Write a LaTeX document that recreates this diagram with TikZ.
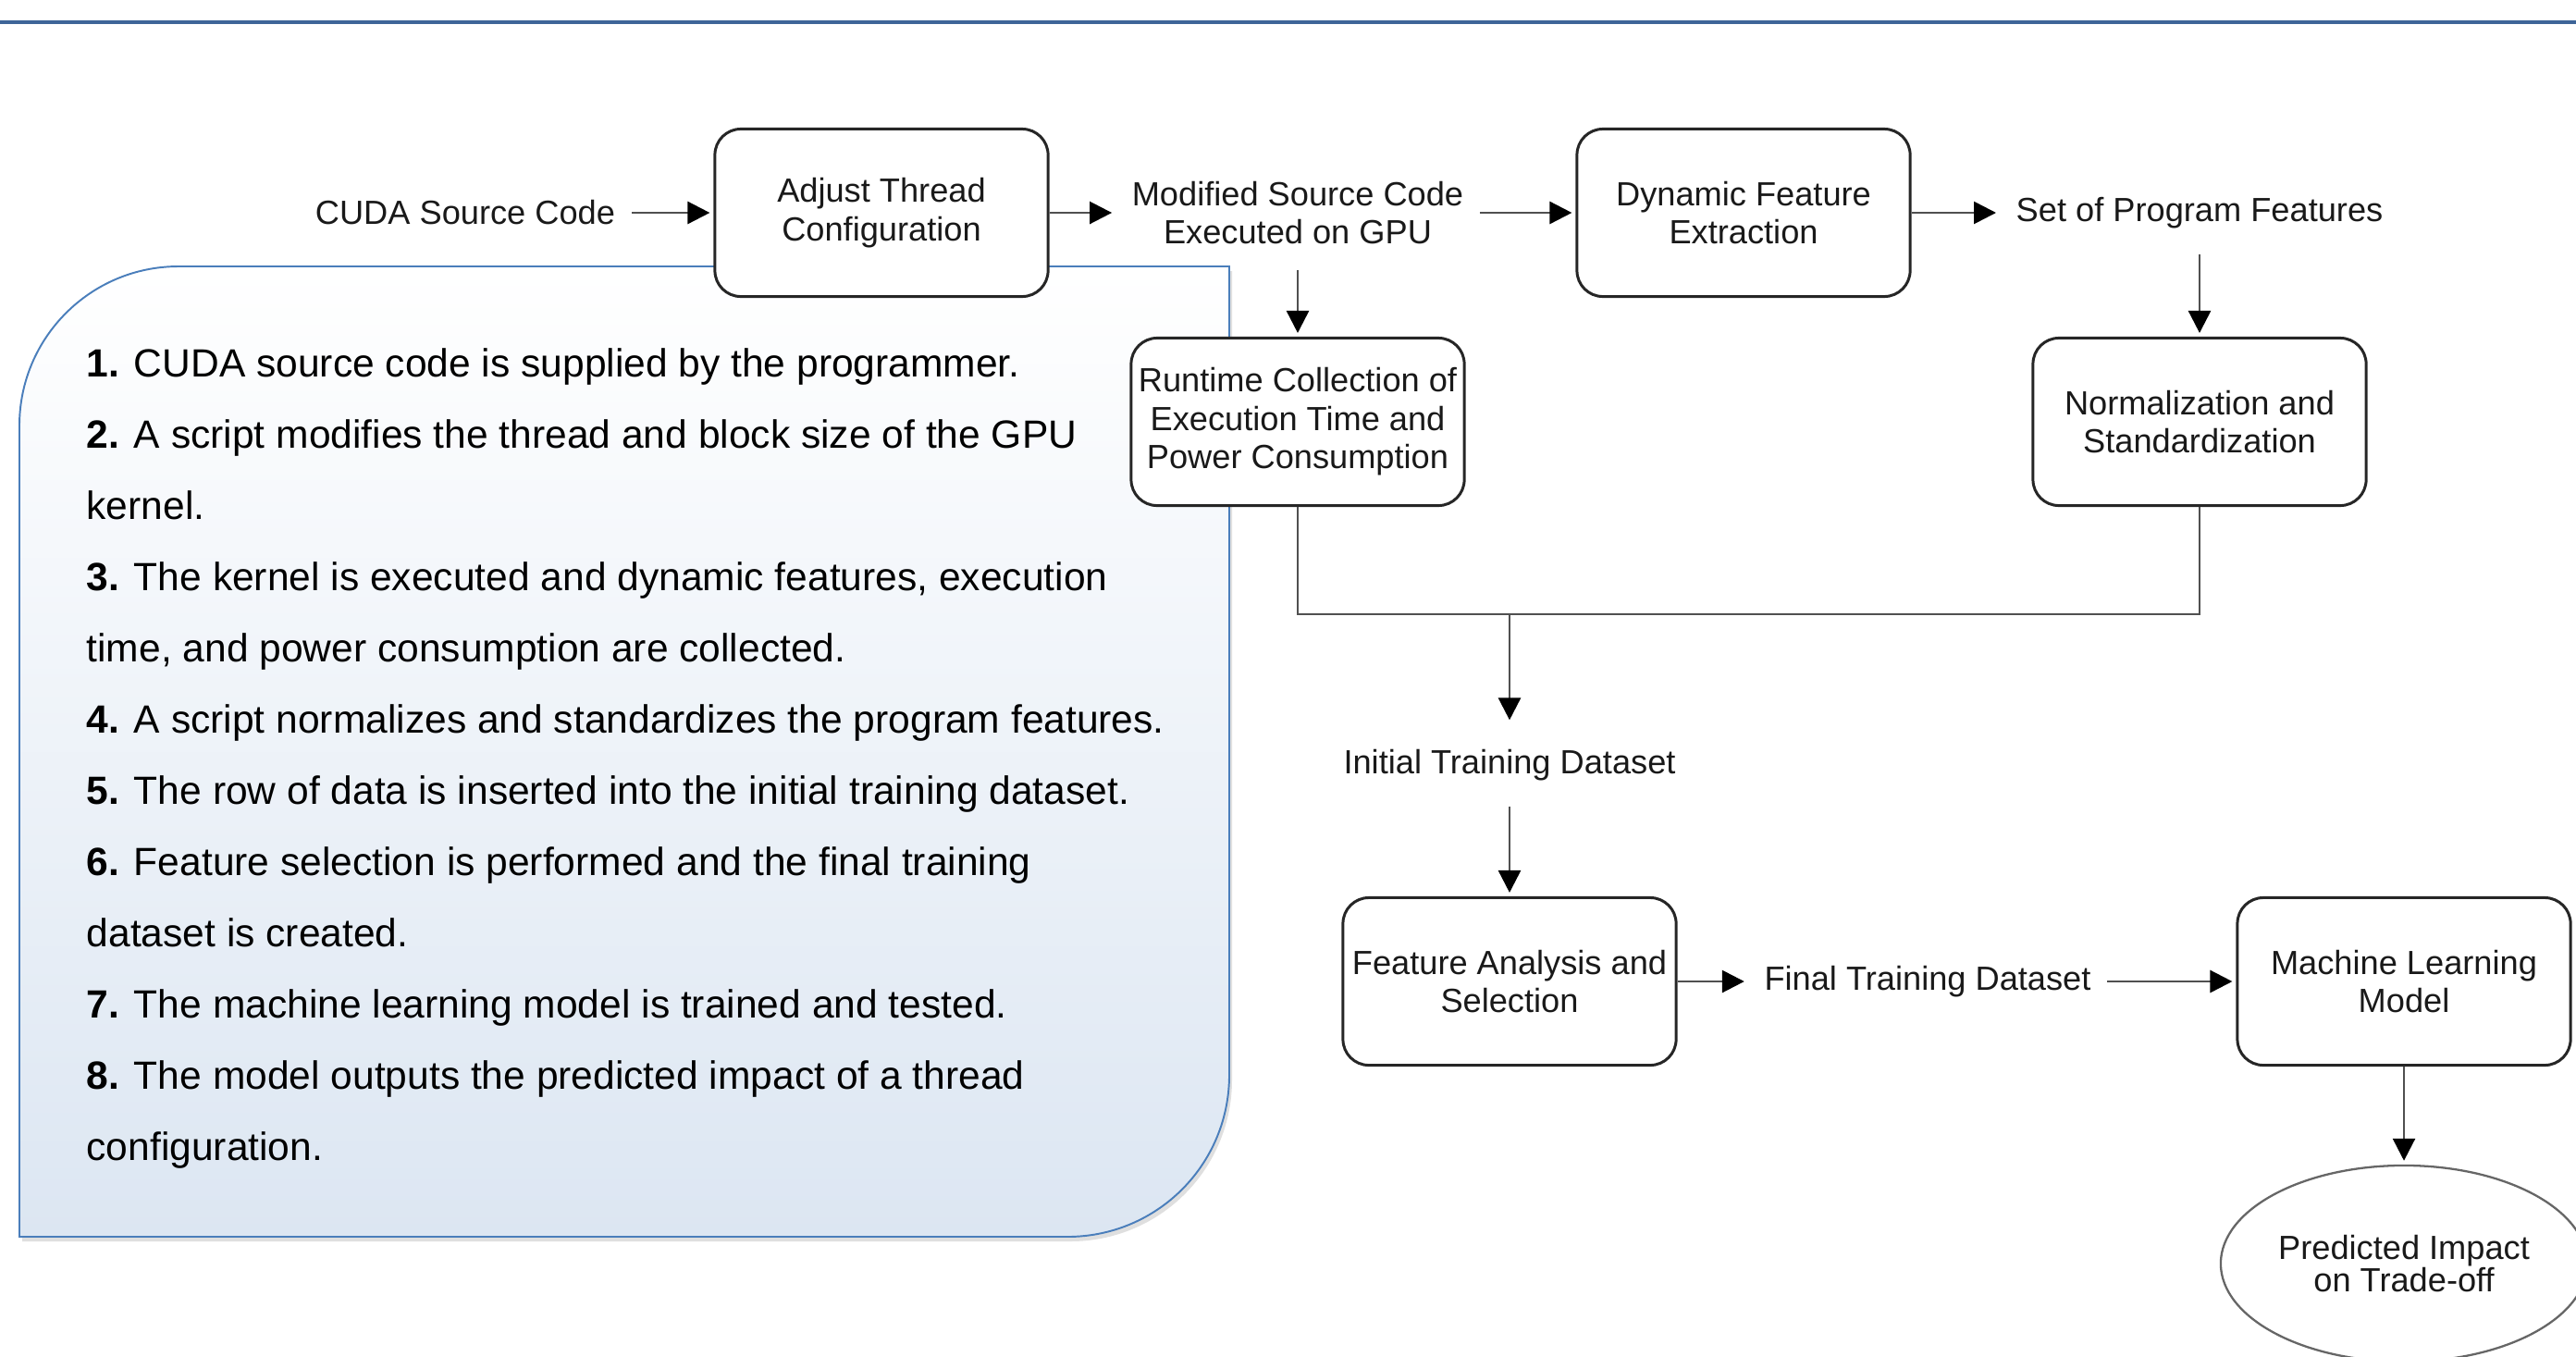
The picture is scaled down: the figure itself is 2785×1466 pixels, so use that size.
\documentclass[tikz,border=0pt]{standalone}
\usepackage{fontspec}
\setmainfont{Liberation Sans}
\usetikzlibrary{arrows.meta,shapes.geometric,shadows}
\definecolor{rulecol}{HTML}{3E6598}
\definecolor{notecol}{HTML}{4A7EBB}
\definecolor{notefill}{HTML}{DCE6F2}
\definecolor{linkcol}{HTML}{505050}
\tikzstyle{stepbox} = [draw=black!85, fill=white, line width=0.85pt, rectangle, rounded corners=0.28cm, minimum width=3.6cm, minimum height=1.81cm, inner sep=0pt, align=center, text=black!90, font=\fontsize{10.3pt}{11.8pt}\selectfont]
\tikzstyle{datatext} = [inner xsep=0.17cm, inner ysep=0.27cm, align=center, text=black!90, font=\fontsize{10.3pt}{11.8pt}\selectfont]
\tikzstyle{outcome} = [draw=black!60, fill=white, line width=0.65pt, ellipse, minimum width=3.96cm, minimum height=2.12cm, inner sep=0pt, align=center, text=black!90, font=\fontsize{10.3pt}{9.8pt}\selectfont]
\tikzstyle{notebox} = [draw=notecol, line width=0.55pt, top color=white, bottom color=notefill, drop shadow={shadow xshift=0.03cm, shadow yshift=-0.05cm, opacity=0.25}]
\tikzstyle{link} = [draw=linkcol, line width=0.75pt]
\tikzstyle{flow} = [link, -{Triangle[length=0.24cm, width=0.24cm, color=black]}, shorten >=0.04cm]

\begin{document}
\begin{tikzpicture}[x=0.01cm, y=-0.01cm]
\useasboundingbox (0,0) rectangle (2785,1466);
\draw[rulecol, line width=0.9pt] (0,24) -- (2785,24);

% steps panel
\path[notebox] (21,460) .. controls (21,365) and (98,288) .. (193,288) -- (1329,288) -- (1329,1162) .. controls (1329,1259) and (1251,1337) .. (1154,1337) -- (21,1337) -- cycle;
\node[anchor=base west, inner sep=0pt] (steps) at (93,407) {%
    \begin{minipage}[t]{12.3cm}
        \fontsize{12.1pt}{21.9pt}\selectfont
        \textbf{1.} CUDA source code is supplied by the programmer.\\
        \textbf{2.} A script modifies the thread and block size of the GPU\\
        kernel.\\
        \textbf{3.} The kernel is executed and dynamic features, execution\\
        time, and power consumption are collected.\\
        \textbf{4.} A script normalizes and standardizes the program features.\\
        \textbf{5.} The row of data is inserted into the initial training dataset.\\
        \textbf{6.} Feature selection is performed and the final training\\
        dataset is created.\\
        \textbf{7.} The machine learning model is trained and tested.\\
        \textbf{8.} The model outputs the predicted impact of a thread\\
        configuration.
    \end{minipage}
};

% flow
\node[datatext] (cuda) at (503,230) {CUDA Source Code};
\node[stepbox] (adjust) at (953,230) {Adjust Thread\\Configuration};
\node[datatext] (modsrc) at (1403,230) {Modified Source Code\\Executed on GPU};
\node[stepbox] (dynfeat) at (1885,230) {Dynamic Feature\\Extraction};
\node[datatext] (featset) at (2378,230) {Set of Program Features};
\node[stepbox] (runtime) at (1403,456) {Runtime Collection of\\Execution Time and\\Power Consumption};
\node[stepbox] (normstd) at (2378,456) {Normalization and\\Standardization};
\coordinate (merge) at (1632,664);
\node[datatext] (initset) at (1632,827) {Initial Training Dataset};
\node[stepbox] (featsel) at (1632,1061) {Feature Analysis and\\Selection};
\node[datatext] (finalset) at (2084,1061) {Final Training Dataset};
\node[stepbox] (mlmodel) at (2599,1061) {Machine Learning\\Model};
\node[outcome] (impact) at (2599,1366) {Predicted Impact\\on Trade-off};

\draw[flow] (cuda) -- (adjust);
\draw[flow] (adjust) -- (modsrc);
\draw[flow] (modsrc) -- (dynfeat);
\draw[flow] (dynfeat) -- (featset);
\draw[flow] (modsrc) -- (runtime);
\draw[flow] (featset) -- (normstd);
\draw[link] (runtime) |- (merge) -| (normstd);
\draw[flow] (merge) -- (initset);
\draw[flow] (initset) -- (featsel);
\draw[flow] (featsel) -- (finalset);
\draw[flow] (finalset) -- (mlmodel);
\draw[flow] (mlmodel) -- (impact);
\end{tikzpicture}
\end{document}
